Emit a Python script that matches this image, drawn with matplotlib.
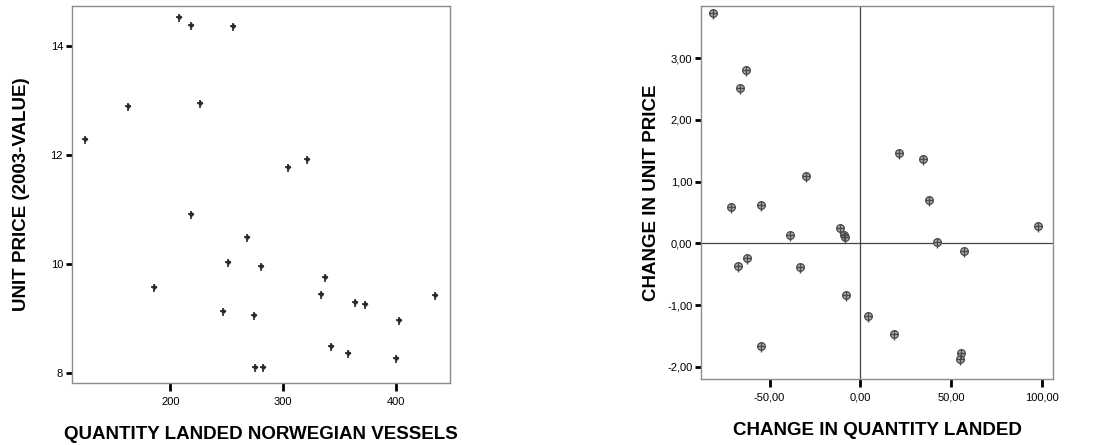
import matplotlib
matplotlib.use("Agg")
import matplotlib.pyplot as plt
from matplotlib.path import Path
from matplotlib.ticker import FuncFormatter

# left panel: levels
quantity_landed = [124.4, 162.5, 208.0, 218.4, 255.9, 226.3, 218.4, 185.5, 304.6, 321.0,
                   268.3, 251.2, 280.1, 246.5, 274.2, 275.4, 282.4, 337.1, 333.9, 342.7,
                   357.3, 364.0, 372.3, 402.5, 400.4, 434.9]
unit_price = [12.29, 12.90, 14.53, 14.38, 14.36, 12.96, 10.92, 9.58, 11.78, 11.92,
              10.50, 10.03, 9.97, 9.14, 9.06, 8.12, 8.12, 9.76, 9.45, 8.49,
              8.37, 9.30, 9.26, 8.97, 8.27, 9.43]

# right panel: changes
change_quantity = [-81.3, -62.8, -66.3, -30.1, -71.0, -54.9, -38.6, -11.2, -9.0, -8.3,
                   -67.6, -62.4, -33.4, -7.7, -54.5, 4.4, 18.7, 55.4, 55.1, 21.3,
                   34.7, 38.0, 42.0, 57.1, 98.0]
change_price = [3.73, 2.81, 2.52, 1.09, 0.59, 0.63, 0.14, 0.25, 0.14, 0.11,
                -0.36, -0.24, -0.38, -0.83, -1.66, -1.17, -1.46, -1.77, -1.87, 1.46,
                1.37, 0.71, 0.03, -0.13, 0.29]

left_xticks = [200, 300, 400]
left_yticks = [8, 10, 12, 14]
right_xticks = [-50, 0, 50, 100]
right_yticks = [-2, -1, 0, 1, 2, 3]

plt.rcParams['font.family'] = ['Liberation Sans', 'DejaVu Sans']

# cross with a longer tail below
cross = Path([(0, 0.8), (0, -1.4), (-0.8, 0), (0.8, 0)],
             [Path.MOVETO, Path.LINETO, Path.MOVETO, Path.LINETO])


def style_axes(ax):
    for side in ['top', 'right', 'left', 'bottom']:
        ax.spines[side].set_color('#8c8c8c')
        ax.spines[side].set_linewidth(1.0)
    ax.tick_params(axis='x', direction='out', length=6, width=2, color='black',
                   labelsize=8, pad=4)
    ax.tick_params(axis='y', direction='out', length=4.5, width=2, color='black',
                   labelsize=8, pad=2)
    ax.tick_params(top=False, right=False)


fig = plt.figure(figsize=(10.96, 4.45), dpi=100)

ax1 = fig.add_axes([0.0657, 0.1393, 0.3449, 0.847])
ax1.scatter(quantity_landed, unit_price, marker='D', s=9, c='#333333', linewidths=0)
ax1.scatter(quantity_landed, unit_price, marker=cross, s=55, c='#2a2a2a', linewidths=1.2)
ax1.set_xlim(112.9, 447.9)
ax1.set_ylim(7.82, 14.73)
ax1.set_xticks(left_xticks)
ax1.set_yticks(left_yticks)
style_axes(ax1)
ax1.set_xlabel('QUANTITY LANDED NORWEGIAN VESSELS', fontsize=13.5, fontweight='bold', labelpad=14)
ax1.set_ylabel('UNIT PRICE (2003-VALUE)', fontsize=13.5, fontweight='bold', labelpad=15)

ax2 = fig.add_axes([0.6399, 0.1483, 0.3212, 0.839])
ax2.axhline(0, color='#444444', linewidth=0.9, zorder=1)
ax2.axvline(0, color='#444444', linewidth=0.9, zorder=1)
ax2.scatter(change_quantity, change_price, marker='o', s=30, facecolors='#b4b4b4',
            edgecolors='#505050', linewidths=1.0, zorder=3)
ax2.scatter(change_quantity, change_price, marker=cross, s=80, c='#4a4a4a',
            linewidths=1.0, zorder=4)
ax2.set_xlim(-87.6, 106.3)
ax2.set_ylim(-2.195, 3.85)
ax2.set_xticks(right_xticks)
ax2.set_yticks(right_yticks)
comma = FuncFormatter(lambda v, p: ('%.2f' % v).replace('.', ','))
ax2.xaxis.set_major_formatter(comma)
ax2.yaxis.set_major_formatter(comma)
style_axes(ax2)
ax2.set_xlabel('CHANGE IN QUANTITY LANDED', fontsize=13.5, fontweight='bold', labelpad=14)
ax2.set_ylabel('CHANGE IN UNIT PRICE', fontsize=13.5, fontweight='bold', labelpad=5)

fig.savefig('out.png', dpi=100)
